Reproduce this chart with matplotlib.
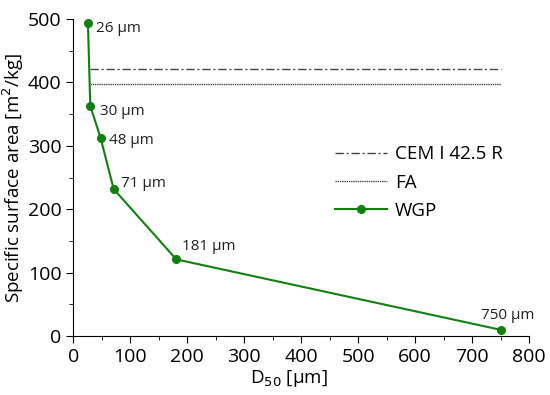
import matplotlib
matplotlib.use("Agg")
import matplotlib.pyplot as plt
from matplotlib.ticker import MultipleLocator

plt.rcParams['font.family'] = ['Open Sans', 'DejaVu Sans']

# WGP data
d50 = [26, 30, 48, 71, 181, 750]
ssa = [493, 363, 313, 232, 121, 10]
labels = ['26 µm', '30 µm', '48 µm', '71 µm', '181 µm', '750 µm']

# reference materials (horizontal lines)
cem_ssa = 421
fa_ssa = 397
ref_x = [30, 750]

fig = plt.figure(figsize=(5.5, 3.95), dpi=100)
ax = fig.add_axes([0.133, 0.149, 0.829, 0.803])

ax.plot(ref_x, [cem_ssa, cem_ssa], color='#444444', lw=1.0,
        linestyle=(0, (6, 2, 1.5, 2)), label='CEM I 42.5 R')
ax.plot(ref_x, [fa_ssa, fa_ssa], color='#444444', lw=1.0,
        linestyle=(0, (1, 0.6)), label='FA')
ax.plot(d50, ssa, color='#118011', lw=1.5, marker='o', markersize=5.5,
        label='WGP')

# point labels
offsets = [(6, -4), (7, -4), (6, -2), (5, 4), (4, 9), (-14, 10)]
for x, y, t, off in zip(d50, ssa, labels, offsets):
    ax.annotate(t, (x, y), xytext=off, textcoords='offset points',
                fontsize=11, ha='left', va='center', color='#222222')

ax.set_xlim(0, 800)
ax.set_ylim(0, 500)
ax.xaxis.set_major_locator(MultipleLocator(100))
ax.xaxis.set_minor_locator(MultipleLocator(50))
ax.yaxis.set_major_locator(MultipleLocator(100))
ax.yaxis.set_minor_locator(MultipleLocator(50))
ax.tick_params(which='major', direction='out', length=5, labelsize=14)
ax.tick_params(which='minor', direction='out', length=3)

for s in ['top', 'right']:
    ax.spines[s].set_visible(False)

ax.set_xlabel('D$_{50}$ [µm]', fontsize=13.5)
ax.xaxis.set_label_coords(0.472, -0.10)
ax.set_ylabel('Specific surface area [m$^2$/kg]', fontsize=13.5)
ax.yaxis.set_label_coords(-0.103, 0.5)

ax.legend(loc='upper left', bbox_to_anchor=(0.537, 0.655), frameon=False,
          fontsize=13.5, handlelength=2.8, handletextpad=0.4,
          labelspacing=0.55)

fig.savefig('out.png', dpi=100)
